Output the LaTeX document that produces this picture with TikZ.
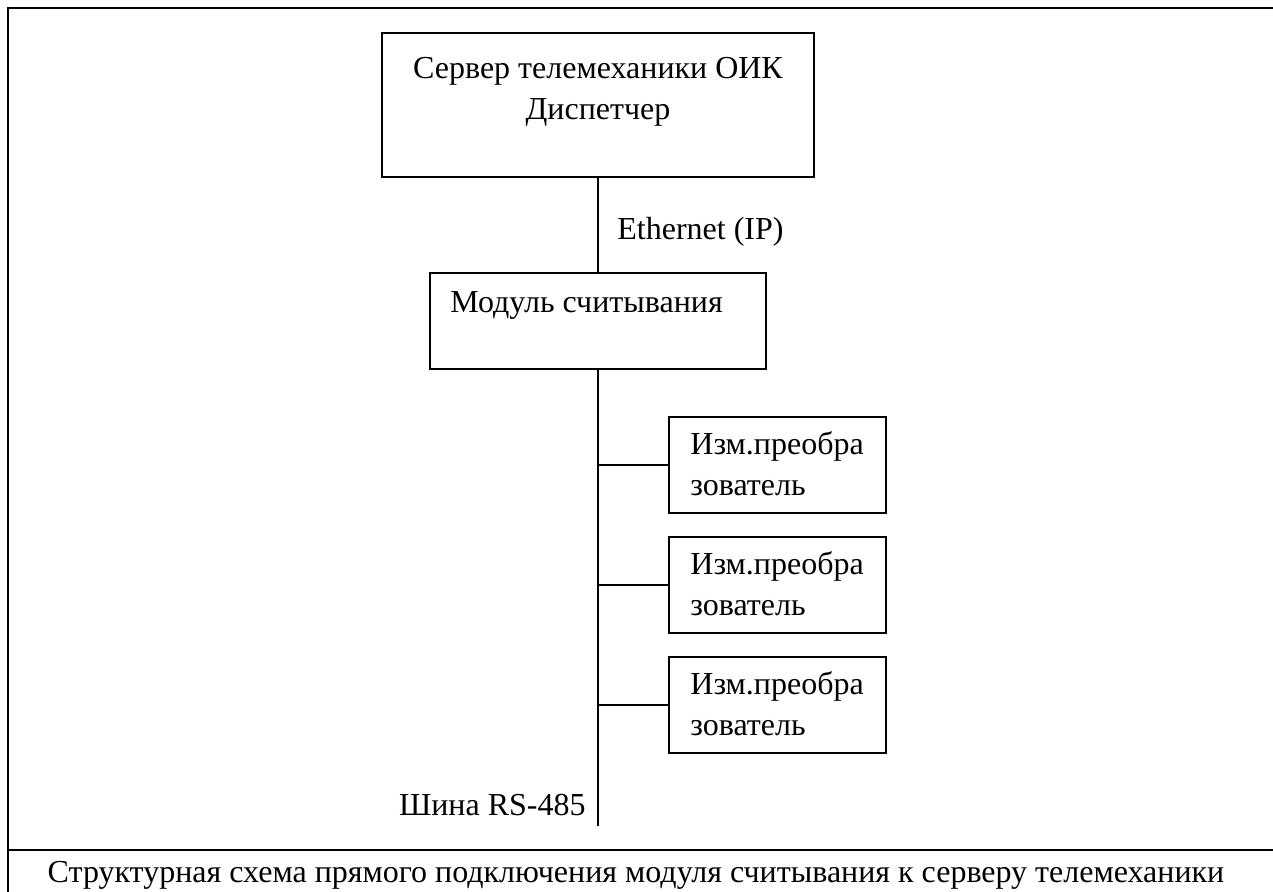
\documentclass[tikz,border=0pt]{standalone}
\usepackage{fontspec}
\setmainfont{Liberation Serif}
\usetikzlibrary{positioning}
\tikzset{%
    blk/.style={draw,line width=0.75pt,inner sep=0pt},
    txt/.style={inner sep=0pt,font=\fontsize{16}{20.5}\selectfont},
    ln/.style={line width=0.6pt},
    frm/.style={line width=1.1pt}
}

\begin{document}
\begin{tikzpicture}[x=0.5pt,y=-0.5pt]
        \useasboundingbox (0,0) rectangle (1273,892);
        \draw[frm] (1273,8) -- (8,8) -- (8,892);
        \draw[frm] (8,850) -- (1273,850);
        \node[blk,minimum width=216pt,minimum height=72pt] (srv) at (598,105){};
        \node[blk,minimum width=168pt,minimum height=48pt] (mod) at (598,321){};
        \node[blk,minimum width=108.5pt,minimum height=48pt] (izm1) at (777.5,465){};
        \node[blk,minimum width=108.5pt,minimum height=48pt] (izm2) at (777.5,585){};
        \node[blk,minimum width=108.5pt,minimum height=48pt] (izm3) at (777.5,705){};
        \node[txt,anchor=north,align=center] (srvtxt) at (598,57){Сервер телемеханики ОИК\\Диспетчер};
        \node[txt,anchor=base west] (modtxt) at (450,313){Модуль считывания};
        \node[txt,anchor=north west,align=left] (izm1txt) at (690,431){Изм.преобра\\зователь};
        \node[txt,anchor=north west,align=left] (izm2txt) at (690,551){Изм.преобра\\зователь};
        \node[txt,anchor=north west,align=left] (izm3txt) at (690,671){Изм.преобра\\зователь};
        \node[txt,anchor=base west] (eth) at (617,240){Ethernet (IP)};
        \coordinate (busend) at (598,826);
        \node[txt,anchor=base east] (bus) at (586,815){Шина RS-485};
        \node[txt,anchor=base] (cap) at (636,882){Структурная схема прямого подключения модуля считывания к серверу телемеханики};
        \draw[ln] (srv) -- (mod);
        \draw[ln] (mod) -- (busend);
        \draw[ln] (busend |- izm1.west) -- (izm1);
        \draw[ln] (busend |- izm2.west) -- (izm2);
        \draw[ln] (busend |- izm3.west) -- (izm3);
    \end{tikzpicture}
\end{document}
